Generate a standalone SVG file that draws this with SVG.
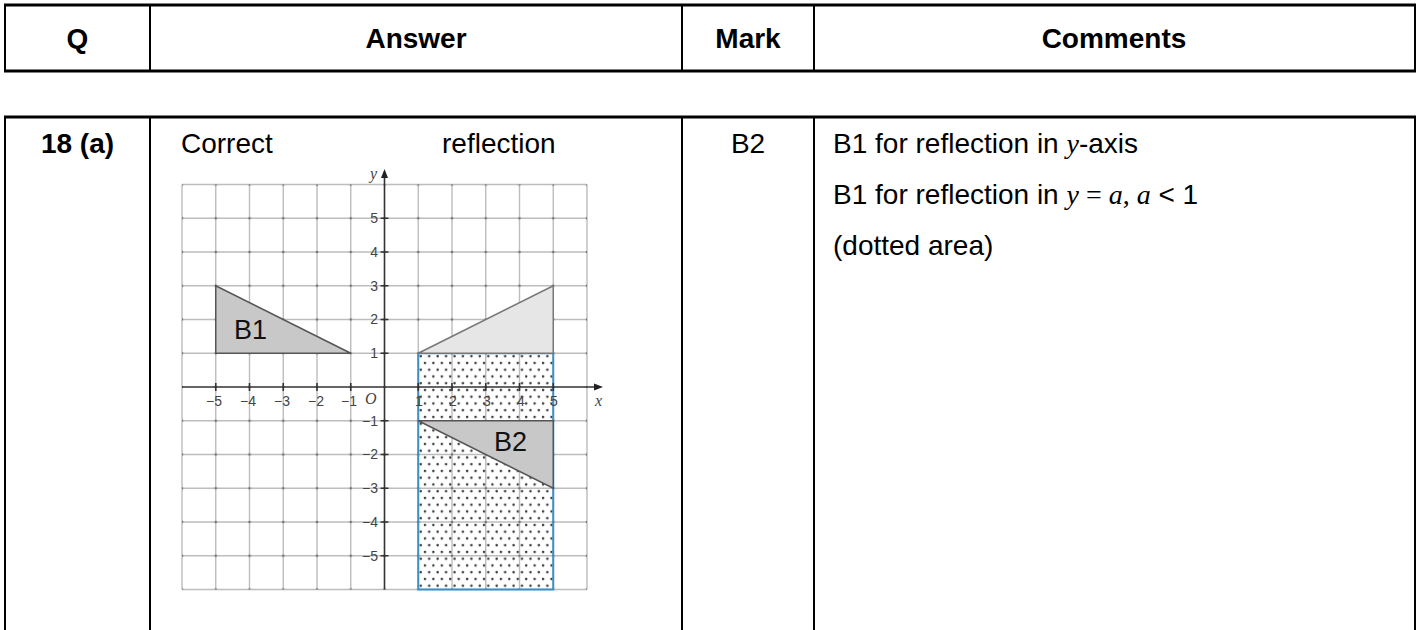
<svg xmlns="http://www.w3.org/2000/svg" width="1420" height="630" viewBox="0 0 1420 630">
<style>
.b{stroke:#000;stroke-width:2;fill:none}
.bh{stroke:#000;stroke-width:3;fill:none}
.th{font-family:"Liberation Sans",Arial,sans-serif;font-weight:bold;font-size:28px;fill:#000}
.t{font-family:"Liberation Sans",Arial,sans-serif;font-size:28px;fill:#000}
.ti{font-family:"Liberation Serif","Times New Roman",serif;font-style:italic;font-size:28px}
.ts{font-family:"Liberation Serif","Times New Roman",serif;font-size:28px}
.grid{stroke:#bdbdbd;stroke-width:1.4;fill:none}
.ax{stroke:#333;stroke-width:1.6;fill:none}
.lbl{font-family:"Liberation Sans",Arial,sans-serif;font-size:14px;fill:#444}
.lbli{font-family:"Liberation Serif","Times New Roman",serif;font-style:italic;font-size:16px;fill:#444}
.big{font-family:"Liberation Sans",Arial,sans-serif;font-size:27px;fill:#111}
</style>
<defs>
<pattern id="dots" patternUnits="userSpaceOnUse" x="418.25" y="353.25" width="8.4375" height="13.5">
<circle cx="2.5" cy="3" r="1.25" fill="#3a3a3a"/>
<circle cx="6.7" cy="9.75" r="1.25" fill="#3a3a3a"/>
</pattern>
<pattern id="nodes" patternUnits="userSpaceOnUse" x="165.125" y="167.625" width="33.75" height="33.75">
<circle cx="16.875" cy="16.875" r="1.3" fill="#777"/>
</pattern>
</defs>
<rect width="1420" height="630" fill="#fff"/>

<g id="header">
<line class="bh" x1="4" y1="5" x2="1416" y2="5"/>
<line class="bh" x1="4" y1="71" x2="1416" y2="71"/>
<line class="b" x1="5" y1="5" x2="5" y2="71"/>
<line class="b" x1="150" y1="5" x2="150" y2="71"/>
<line class="b" x1="682" y1="5" x2="682" y2="71"/>
<line class="b" x1="814" y1="5" x2="814" y2="71"/>
<line class="b" x1="1415" y1="5" x2="1415" y2="71"/>
<text class="th" x="77.5" y="48" text-anchor="middle">Q</text>
<text class="th" x="416" y="48" text-anchor="middle">Answer</text>
<text class="th" x="748" y="48" text-anchor="middle">Mark</text>
<text class="th" x="1114" y="48" text-anchor="middle">Comments</text>
</g>

<g id="row18a">
<line class="bh" x1="4" y1="117" x2="1416" y2="117"/>
<line class="b" x1="5" y1="117" x2="5" y2="630"/>
<line class="b" x1="150" y1="117" x2="150" y2="630"/>
<line class="b" x1="682" y1="117" x2="682" y2="630"/>
<line class="b" x1="814" y1="117" x2="814" y2="630"/>
<line class="b" x1="1415" y1="117" x2="1415" y2="630"/>
<text class="th" x="77.5" y="153" text-anchor="middle">18 (a)</text>
<text class="t" x="181" y="153">Correct</text>
<text class="t" x="442" y="153">reflection</text>
<text class="t" x="748" y="153" text-anchor="middle">B2</text>
<text class="t" x="833" y="153">B1 for reflection in <tspan class="ti">y</tspan>-axis</text>
<text class="t" x="833" y="204">B1 for reflection in <tspan class="ti">y</tspan><tspan class="ts"> = </tspan><tspan class="ti">a</tspan><tspan class="ts">, </tspan><tspan class="ti">a</tspan> &lt; 1</text>
<text class="t" x="833" y="255">(dotted area)</text>
</g>

<g id="graph">
<path class="grid" d="M182 184.5V589.5M215.75 184.5V589.5M249.5 184.5V589.5M283.25 184.5V589.5M317 184.5V589.5M350.75 184.5V589.5M418.25 184.5V589.5M452 184.5V589.5M485.75 184.5V589.5M519.5 184.5V589.5M553.25 184.5V589.5M587 184.5V589.5M182 184.5H587M182 218.25H587M182 252H587M182 285.75H587M182 319.5H587M182 353.25H587M182 420.75H587M182 454.5H587M182 488.25H587M182 522H587M182 555.75H587M182 589.5H587"/>
<rect x="182" y="184.5" width="405" height="405" fill="url(#nodes)"/>
<rect id="dotted-area" x="418.25" y="353.25" width="135" height="236.25" fill="url(#dots)" stroke="#3a90c8" stroke-width="2"/>
<polygon id="image-triangle" points="418.25,353.25 553.25,353.25 553.25,285.75" fill="#e6e6e6" stroke="#777" stroke-width="1.5"/>
<polygon id="B1" points="215.75,285.75 215.75,353.25 350.75,353.25" fill="#c8c8c8" stroke="#555" stroke-width="1.5"/>
<polygon id="B2" points="418.25,420.75 553.25,420.75 553.25,488.25" fill="#c8c8c8" stroke="#555" stroke-width="1.5"/>
<text class="big" x="234" y="339">B1</text>
<text class="big" x="494" y="451">B2</text>
<path class="ax" d="M384.5 589.5V176M182 387H596"/>
<path d="M384.5 169l-3.5 9h7z" fill="#222"/>
<path d="M603 387l-9 -3.5v7z" fill="#222"/>
<path class="ax" d="M380.5 218.25h8M380.5 252h8M380.5 285.75h8M380.5 319.5h8M380.5 353.25h8M380.5 420.75h8M380.5 454.5h8M380.5 488.25h8M380.5 522h8M380.5 555.75h8M215.75 383v8M249.5 383v8M283.25 383v8M317 383v8M350.75 383v8M418.25 383v8M452 383v8M485.75 383v8M519.5 383v8M553.25 383v8" stroke-width="1.2"/>
<text class="lbli" x="370" y="179">y</text>
<text class="lbli" x="595" y="406">x</text>
<text class="lbli" x="365" y="404">O</text>
<g class="lbl" text-anchor="middle">
<text x="214" y="406">−5</text>
<text x="248" y="406">−4</text>
<text x="282" y="406">−3</text>
<text x="316" y="406">−2</text>
<text x="349" y="406">−1</text>
<text x="419" y="406">1</text>
<text x="453" y="406">2</text>
<text x="487" y="406">3</text>
<text x="521" y="406">4</text>
<text x="554" y="406">5</text>
</g>
<g class="lbl" text-anchor="end">
<text x="378" y="223">5</text>
<text x="378" y="257">4</text>
<text x="378" y="291">3</text>
<text x="378" y="324">2</text>
<text x="378" y="358">1</text>
<text x="378" y="426">−1</text>
<text x="378" y="459">−2</text>
<text x="378" y="493">−3</text>
<text x="378" y="527">−4</text>
<text x="378" y="561">−5</text>
</g>
</g>
</svg>
